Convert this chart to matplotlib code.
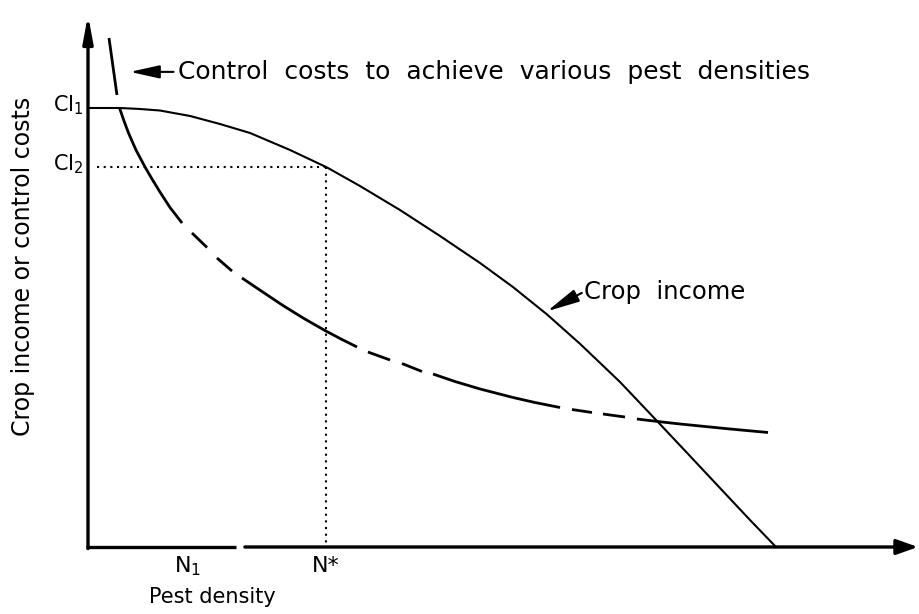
import matplotlib.pyplot as plt

plt.rcParams['font.family'] = 'DejaVu Sans'
plt.rcParams['mathtext.default'] = 'regular'

# crop income curve (pest density vs income, arbitrary units)
income_x = [0, 3.86, 6.27, 8.67, 12.29, 15.90, 19.52, 24.34, 28.80, 32.77, 37.59, 42.41, 47.23,
            51.20, 55.30, 59.28, 64.10, 68.67, 72.53, 76.14, 79.76, 82.89]
income_y = [83.62, 83.62, 83.43, 83.14, 82.10, 80.57, 78.86, 75.62, 72.29, 68.76, 64.19, 59.24, 54.10,
            49.52, 44.30, 38.70, 31.43, 23.81, 17.33, 11.24, 5.14, 0]

# control costs curve, drawn in broken pieces (solid runs and dashes)
cost_x = [2.53, 3.49, 3.80, 4.34, 4.88, 5.78, 6.87, 7.71, 8.67, 9.88, 11.33, 12.53, 14.34, 15.54,
          17.35, 18.55, 20.96, 23.49, 26.02, 28.55, 30.48, 32.41, 33.73, 36.39, 37.83, 40.24, 41.57,
          44.22, 47.23, 51.20, 53.86, 56.87, 58.31, 60.72, 62.05, 64.70, 66.14, 68.67, 71.33, 73.73,
          77.35, 81.93]
cost_y = [96.95, 86.10, 83.62, 81.14, 78.86, 75.62, 72.38, 70.10, 67.62, 64.67, 61.71, 59.81, 57.05,
          55.05, 52.57, 51.24, 48.67, 46.00, 43.52, 41.24, 39.62, 38.10, 37.14, 35.62, 34.95, 33.43,
          32.95, 31.52, 30.10, 28.48, 27.52, 26.57, 26.19, 25.62, 25.33, 24.76, 24.38, 23.90, 23.43,
          23.05, 22.48, 21.81]
cost_pieces = [(0, 1), (2, 10), (11, 12), (13, 14), (15, 21), (22, 23), (24, 25), (26, 31),
               (32, 33), (34, 35), (36, 41)]

ci1 = 83.62
ci2 = 72.29
n_star = 28.7
n_1 = 12.0

fig = plt.figure(figsize=(9.19, 6.14), dpi=100)
ax = fig.add_axes([0, 0, 1, 1])
ax.set_xlim(-88 / 8.3, (919 - 88) / 8.3)
ax.set_ylim((547 - 614) / 5.25, 547 / 5.25)
ax.axis('off')

head = dict(color='k', mutation_scale=20, shrinkA=0, shrinkB=0)

# axes with arrow heads
ax.annotate('', xy=(0, 101.3), xytext=(0, -0.3),
            arrowprops=dict(arrowstyle='-|>,head_length=0.8,head_width=0.15', lw=2.4, **head))
ax.plot([-0.3, 17.8], [0, 0], color='k', lw=2.4, solid_capstyle='butt')
ax.annotate('', xy=(100.0, 0), xytext=(18.9, 0),
            arrowprops=dict(arrowstyle='-|>,head_length=0.65,head_width=0.23', lw=2.4, **head))

# curves
ax.plot(income_x, income_y, color='k', lw=1.5, solid_joinstyle='round')
for a, b in cost_pieces:
    ax.plot(cost_x[a:b + 1], cost_y[a:b + 1], color='k', lw=2.0,
            solid_capstyle='butt', solid_joinstyle='round')

# dotted guides at N*
ax.plot([1.1, n_star], [ci2, ci2], color='k', lw=1.5, linestyle=(0, (1, 2.2)))
ax.plot([n_star, n_star], [ci2, 0], color='k', lw=1.5, linestyle=(0, (1, 2.2)))

# labels
ax.text(-0.55, ci1 + 0.6, 'CI$_1$', fontsize=15, ha='right', va='center')
ax.text(-0.55, ci2 + 0.6, 'CI$_2$', fontsize=15, ha='right', va='center')
ax.text(n_1, -3.6, 'N$_1$', fontsize=16, ha='center', va='center')
ax.text(n_star, -3.6, 'N*', fontsize=16, ha='center', va='center')
ax.text(15.0, -9.5, 'Pest density', fontsize=15, ha='center', va='center')
ax.text(-7.8, 53.5, 'Crop income or control costs', fontsize=17, rotation=90,
        ha='center', va='center')

# pointer notes
ax.annotate('', xy=(5.06, 90.5), xytext=(10.3, 90.5),
            arrowprops=dict(arrowstyle='-|>,head_length=0.9,head_width=0.2', lw=1.5, **head))
ax.text(10.8, 90.5, 'Control  costs  to  achieve  various  pest  densities', fontsize=18,
        ha='left', va='center')
ax.annotate('', xy=(55.3, 44.9), xytext=(59.5, 48.4),
            arrowprops=dict(arrowstyle='-|>,head_length=1.0,head_width=0.2', lw=1.5, **head))
ax.text(59.8, 48.6, 'Crop  income', fontsize=17.5, ha='left', va='center')

fig.savefig('out.png', dpi=100)
